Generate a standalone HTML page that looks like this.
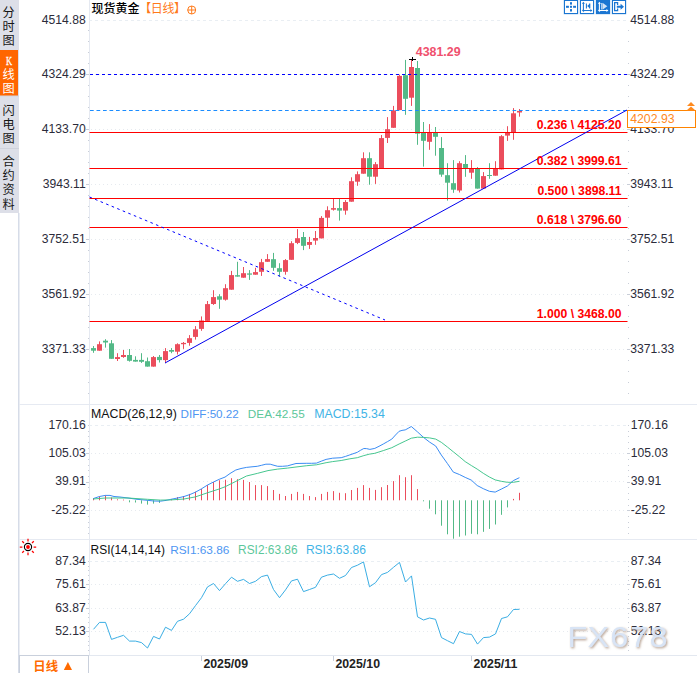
<!DOCTYPE html>
<html lang="zh-CN"><head><meta charset="utf-8"><title>现货黄金 日线</title>
<style>
html,body{margin:0;padding:0;background:#fff;}
body{width:697px;height:673px;overflow:hidden;}
svg{display:block}
text{font-family:"Liberation Sans","Noto Sans CJK SC",sans-serif;font-size:12px;fill:#333}
.cjk{font-family:"Liberation Sans","Noto Sans CJK SC",sans-serif}
.ax{fill:#2b2b3a}
.b{font-weight:bold}
.fib{font-weight:bold;fill:#ff0000;text-anchor:end;font-size:12.2px}
.ax{font-size:12.15px}
.lb{font-size:12.35px}
.r{text-anchor:end}
</style></head><body>
<svg width="697" height="673" viewBox="0 0 697 673">
<rect width="697" height="673" fill="#fff"/>

<g id="sidebar">
<rect x="0" y="0" width="19" height="213" fill="#dddfe8"/>
<rect x="0" y="50" width="18" height="46" fill="#ff6600"/>
<rect x="0" y="148" width="19" height="1" fill="#cfd2dc"/>
<rect x="0" y="95.5" width="19" height="1" fill="#d2d5de"/>
<rect x="18" y="213" width="1.5" height="460" fill="#d6dce8"/>
<text x="8.7" y="16.5" text-anchor="middle" style="fill:#161616;font-size:12.2px">分</text>
<text x="8.7" y="31" text-anchor="middle" style="fill:#161616;font-size:12.2px">时</text>
<text x="8.7" y="45" text-anchor="middle" style="fill:#161616;font-size:12.2px">图</text>
<text transform="translate(9.0,64.8) scale(0.74,1)" text-anchor="middle" style="fill:#fff;font-family:'Liberation Serif',serif;font-size:11.5px;stroke:#fff;stroke-width:.3">K</text>
<text x="8.7" y="79.0" text-anchor="middle" style="fill:#fff;font-size:12.2px">线</text>
<text x="8.7" y="93.0" text-anchor="middle" style="fill:#fff;font-size:12.2px">图</text>
<text x="8.7" y="114.5" text-anchor="middle" style="fill:#161616;font-size:12.2px">闪</text>
<text x="8.7" y="128.7" text-anchor="middle" style="fill:#161616;font-size:12.2px">电</text>
<text x="8.7" y="143" text-anchor="middle" style="fill:#161616;font-size:12.2px">图</text>
<text x="8.7" y="166" text-anchor="middle" style="fill:#161616;font-size:12.2px">合</text>
<text x="8.7" y="180" text-anchor="middle" style="fill:#161616;font-size:12.2px">约</text>
<text x="8.7" y="194" text-anchor="middle" style="fill:#161616;font-size:12.2px">资</text>
<text x="8.7" y="208.7" text-anchor="middle" style="fill:#161616;font-size:12.2px">料</text>
</g>
<g id="frame" shape-rendering="crispEdges">
<rect x="19" y="404" width="678" height="1" fill="#e6eaf2"/>
<rect x="19" y="539" width="678" height="1" fill="#e6eaf2"/>
<rect x="19" y="655" width="678" height="1" fill="#e3e8f0"/>
<rect x="89" y="0" width="1" height="655" fill="#e5e9f1"/>
</g>
<g id="grid" fill="none" shape-rendering="crispEdges">
<line x1="89" x2="626" y1="20.5" y2="20.5" stroke="#e9eef3" stroke-dasharray="3 3"/>
<line x1="91" x2="626" y1="74.5" y2="74.5" stroke="#e6eaef" stroke-dasharray="1 3"/>
<line x1="91" x2="626" y1="129.5" y2="129.5" stroke="#e6eaef" stroke-dasharray="1 3"/>
<line x1="91" x2="626" y1="184.5" y2="184.5" stroke="#e6eaef" stroke-dasharray="1 3"/>
<line x1="91" x2="626" y1="239.5" y2="239.5" stroke="#e6eaef" stroke-dasharray="1 3"/>
<line x1="91" x2="626" y1="294.5" y2="294.5" stroke="#e6eaef" stroke-dasharray="1 3"/>
<line x1="91" x2="626" y1="349.5" y2="349.5" stroke="#e6eaef" stroke-dasharray="1 3"/>
<line x1="89" x2="626" y1="425.5" y2="425.5" stroke="#e9eef3" stroke-dasharray="3 3"/>
<line x1="91" x2="626" y1="453.5" y2="453.5" stroke="#e6eaef" stroke-dasharray="1 3"/>
<line x1="91" x2="626" y1="481.5" y2="481.5" stroke="#e6eaef" stroke-dasharray="1 3"/>
<line x1="91" x2="626" y1="510.5" y2="510.5" stroke="#e6eaef" stroke-dasharray="1 3"/>
<line x1="89" x2="626" y1="561.5" y2="561.5" stroke="#e9eef3" stroke-dasharray="3 3"/>
<line x1="91" x2="626" y1="584.5" y2="584.5" stroke="#e6eaef" stroke-dasharray="1 3"/>
<line x1="91" x2="626" y1="608.5" y2="608.5" stroke="#e6eaef" stroke-dasharray="1 3"/>
<line x1="91" x2="626" y1="631.5" y2="631.5" stroke="#e6eaef" stroke-dasharray="1 3"/>
</g>
<g id="ticks" fill="#c9ced8" shape-rendering="crispEdges">
<rect x="88" y="30.0" width="1" height="1"/>
<rect x="628" y="30.0" width="1" height="1"/>
<rect x="88" y="41.0" width="1" height="1"/>
<rect x="628" y="41.0" width="1" height="1"/>
<rect x="88" y="52.0" width="1" height="1"/>
<rect x="628" y="52.0" width="1" height="1"/>
<rect x="88" y="63.0" width="1" height="1"/>
<rect x="628" y="63.0" width="1" height="1"/>
<rect x="86" y="74.0" width="3" height="1"/>
<rect x="627" y="74.0" width="3" height="1"/>
<rect x="88" y="85.0" width="1" height="1"/>
<rect x="628" y="85.0" width="1" height="1"/>
<rect x="88" y="96.0" width="1" height="1"/>
<rect x="628" y="96.0" width="1" height="1"/>
<rect x="88" y="107.0" width="1" height="1"/>
<rect x="628" y="107.0" width="1" height="1"/>
<rect x="88" y="118.0" width="1" height="1"/>
<rect x="628" y="118.0" width="1" height="1"/>
<rect x="86" y="129.0" width="3" height="1"/>
<rect x="627" y="129.0" width="3" height="1"/>
<rect x="88" y="140.0" width="1" height="1"/>
<rect x="628" y="140.0" width="1" height="1"/>
<rect x="88" y="151.0" width="1" height="1"/>
<rect x="628" y="151.0" width="1" height="1"/>
<rect x="88" y="162.0" width="1" height="1"/>
<rect x="628" y="162.0" width="1" height="1"/>
<rect x="88" y="173.0" width="1" height="1"/>
<rect x="628" y="173.0" width="1" height="1"/>
<rect x="86" y="184.0" width="3" height="1"/>
<rect x="627" y="184.0" width="3" height="1"/>
<rect x="88" y="195.0" width="1" height="1"/>
<rect x="628" y="195.0" width="1" height="1"/>
<rect x="88" y="206.0" width="1" height="1"/>
<rect x="628" y="206.0" width="1" height="1"/>
<rect x="88" y="217.0" width="1" height="1"/>
<rect x="628" y="217.0" width="1" height="1"/>
<rect x="88" y="228.0" width="1" height="1"/>
<rect x="628" y="228.0" width="1" height="1"/>
<rect x="86" y="239.0" width="3" height="1"/>
<rect x="627" y="239.0" width="3" height="1"/>
<rect x="88" y="250.0" width="1" height="1"/>
<rect x="628" y="250.0" width="1" height="1"/>
<rect x="88" y="261.0" width="1" height="1"/>
<rect x="628" y="261.0" width="1" height="1"/>
<rect x="88" y="272.0" width="1" height="1"/>
<rect x="628" y="272.0" width="1" height="1"/>
<rect x="88" y="283.0" width="1" height="1"/>
<rect x="628" y="283.0" width="1" height="1"/>
<rect x="86" y="294.0" width="3" height="1"/>
<rect x="627" y="294.0" width="3" height="1"/>
<rect x="88" y="305.0" width="1" height="1"/>
<rect x="628" y="305.0" width="1" height="1"/>
<rect x="88" y="316.0" width="1" height="1"/>
<rect x="628" y="316.0" width="1" height="1"/>
<rect x="88" y="327.0" width="1" height="1"/>
<rect x="628" y="327.0" width="1" height="1"/>
<rect x="88" y="338.0" width="1" height="1"/>
<rect x="628" y="338.0" width="1" height="1"/>
<rect x="86" y="349.0" width="3" height="1"/>
<rect x="627" y="349.0" width="3" height="1"/>
<rect x="88" y="360.0" width="1" height="1"/>
<rect x="628" y="360.0" width="1" height="1"/>
<rect x="88" y="371.0" width="1" height="1"/>
<rect x="628" y="371.0" width="1" height="1"/>
<rect x="88" y="382.0" width="1" height="1"/>
<rect x="628" y="382.0" width="1" height="1"/>
<rect x="88" y="393.0" width="1" height="1"/>
<rect x="628" y="393.0" width="1" height="1"/>
<rect x="88" y="425" width="1" height="1"/><rect x="628" y="425" width="1" height="1"/>
<rect x="88" y="431" width="1" height="1"/><rect x="628" y="431" width="1" height="1"/>
<rect x="88" y="436" width="1" height="1"/><rect x="628" y="436" width="1" height="1"/>
<rect x="88" y="442" width="1" height="1"/><rect x="628" y="442" width="1" height="1"/>
<rect x="88" y="448" width="1" height="1"/><rect x="628" y="448" width="1" height="1"/>
<rect x="86" y="453" width="3" height="1"/><rect x="627" y="453" width="3" height="1"/>
<rect x="88" y="459" width="1" height="1"/><rect x="628" y="459" width="1" height="1"/>
<rect x="88" y="465" width="1" height="1"/><rect x="628" y="465" width="1" height="1"/>
<rect x="88" y="470" width="1" height="1"/><rect x="628" y="470" width="1" height="1"/>
<rect x="88" y="476" width="1" height="1"/><rect x="628" y="476" width="1" height="1"/>
<rect x="86" y="482" width="3" height="1"/><rect x="627" y="482" width="3" height="1"/>
<rect x="88" y="487" width="1" height="1"/><rect x="628" y="487" width="1" height="1"/>
<rect x="88" y="493" width="1" height="1"/><rect x="628" y="493" width="1" height="1"/>
<rect x="88" y="499" width="1" height="1"/><rect x="628" y="499" width="1" height="1"/>
<rect x="88" y="505" width="1" height="1"/><rect x="628" y="505" width="1" height="1"/>
<rect x="86" y="510" width="3" height="1"/><rect x="627" y="510" width="3" height="1"/>
<rect x="88" y="516" width="1" height="1"/><rect x="628" y="516" width="1" height="1"/>
<rect x="88" y="522" width="1" height="1"/><rect x="628" y="522" width="1" height="1"/>
<rect x="88" y="527" width="1" height="1"/><rect x="628" y="527" width="1" height="1"/>
<rect x="88" y="533" width="1" height="1"/><rect x="628" y="533" width="1" height="1"/>
<rect x="88" y="561" width="1" height="1"/><rect x="628" y="561" width="1" height="1"/>
<rect x="88" y="566" width="1" height="1"/><rect x="628" y="566" width="1" height="1"/>
<rect x="88" y="570" width="1" height="1"/><rect x="628" y="570" width="1" height="1"/>
<rect x="88" y="575" width="1" height="1"/><rect x="628" y="575" width="1" height="1"/>
<rect x="88" y="580" width="1" height="1"/><rect x="628" y="580" width="1" height="1"/>
<rect x="86" y="584" width="3" height="1"/><rect x="627" y="584" width="3" height="1"/>
<rect x="88" y="589" width="1" height="1"/><rect x="628" y="589" width="1" height="1"/>
<rect x="88" y="594" width="1" height="1"/><rect x="628" y="594" width="1" height="1"/>
<rect x="88" y="599" width="1" height="1"/><rect x="628" y="599" width="1" height="1"/>
<rect x="88" y="603" width="1" height="1"/><rect x="628" y="603" width="1" height="1"/>
<rect x="86" y="608" width="3" height="1"/><rect x="627" y="608" width="3" height="1"/>
<rect x="88" y="613" width="1" height="1"/><rect x="628" y="613" width="1" height="1"/>
<rect x="88" y="617" width="1" height="1"/><rect x="628" y="617" width="1" height="1"/>
<rect x="88" y="622" width="1" height="1"/><rect x="628" y="622" width="1" height="1"/>
<rect x="88" y="627" width="1" height="1"/><rect x="628" y="627" width="1" height="1"/>
<rect x="86" y="631" width="3" height="1"/><rect x="627" y="631" width="3" height="1"/>
<rect x="88" y="636" width="1" height="1"/><rect x="628" y="636" width="1" height="1"/>
<rect x="88" y="641" width="1" height="1"/><rect x="628" y="641" width="1" height="1"/>
<rect x="88" y="645" width="1" height="1"/><rect x="628" y="645" width="1" height="1"/>
<rect x="88" y="650" width="1" height="1"/><rect x="628" y="650" width="1" height="1"/>
</g>
<g id="labels" class="ax">
<text x="85.7" y="23.8" class="r ax">4514.88</text>
<text x="630.3" y="23.8" class="ax">4514.88</text>
<text x="85.7" y="78.3" class="r ax">4324.29</text>
<text x="630.3" y="78.3" class="ax">4324.29</text>
<text x="85.7" y="133.3" class="r ax">4133.70</text>
<text x="630.3" y="133.3" class="ax">4133.70</text>
<text x="85.7" y="188.3" class="r ax">3943.11</text>
<text x="630.3" y="188.3" class="ax">3943.11</text>
<text x="85.7" y="243.3" class="r ax">3752.51</text>
<text x="630.3" y="243.3" class="ax">3752.51</text>
<text x="85.7" y="298.3" class="r ax">3561.92</text>
<text x="630.3" y="298.3" class="ax">3561.92</text>
<text x="85.7" y="353.3" class="r ax">3371.33</text>
<text x="630.3" y="353.3" class="ax">3371.33</text>
<text x="85.7" y="428.8" class="r ax">170.16</text>
<text x="630.8" y="428.8" class="ax">170.16</text>
<text x="85.7" y="457.3" class="r ax">105.03</text>
<text x="630.8" y="457.3" class="ax">105.03</text>
<text x="85.7" y="485.3" class="r ax">39.91</text>
<text x="630.8" y="485.3" class="ax">39.91</text>
<text x="85.7" y="514.3" class="r ax">-25.22</text>
<text x="630.8" y="514.3" class="ax">-25.22</text>
<text x="85.7" y="565.0999999999999" class="r ax">87.34</text>
<text x="630.8" y="565.0999999999999" class="ax">87.34</text>
<text x="85.7" y="588.3" class="r ax">75.61</text>
<text x="630.8" y="588.3" class="ax">75.61</text>
<text x="85.7" y="612.0999999999999" class="r ax">63.87</text>
<text x="630.8" y="612.0999999999999" class="ax">63.87</text>
<text x="85.7" y="635.3" class="r ax">52.13</text>
<text x="630.8" y="635.3" class="ax">52.13</text>
</g>
<g id="candles">
<rect x="93.0" y="346.0" width="1" height="6.8" fill="#53b987"/>
<rect x="91.0" y="348.1" width="5" height="2.6" fill="#53b987"/>
<rect x="99.0" y="341.4" width="1" height="9.3" fill="#eb4d5c"/>
<rect x="97.0" y="344.2" width="5" height="6.5" fill="#eb4d5c"/>
<rect x="105.0" y="339.2" width="1" height="8.4" fill="#53b987"/>
<rect x="103.0" y="340.7" width="5" height="1.8" fill="#53b987"/>
<rect x="111.0" y="340.1" width="1" height="18.7" fill="#53b987"/>
<rect x="109.0" y="343.3" width="5" height="15.5" fill="#53b987"/>
<rect x="117.0" y="353.2" width="1" height="7.8" fill="#eb4d5c"/>
<rect x="115.0" y="357.1" width="5" height="1.9" fill="#eb4d5c"/>
<rect x="123.0" y="350.0" width="1" height="7.8" fill="#eb4d5c"/>
<rect x="121.0" y="355.0" width="5" height="2.0" fill="#eb4d5c"/>
<rect x="129.0" y="349.0" width="1" height="12.6" fill="#53b987"/>
<rect x="127.0" y="355.0" width="5" height="5.8" fill="#53b987"/>
<rect x="135.0" y="356.3" width="1" height="5.3" fill="#53b987"/>
<rect x="133.0" y="359.9" width="5" height="1.7" fill="#53b987"/>
<rect x="141.0" y="353.2" width="1" height="9.7" fill="#53b987"/>
<rect x="139.0" y="359.9" width="5" height="1.9" fill="#53b987"/>
<rect x="147.0" y="357.5" width="1" height="9.1" fill="#53b987"/>
<rect x="145.0" y="361.2" width="5" height="5.4" fill="#53b987"/>
<rect x="153.0" y="356.0" width="1" height="10.6" fill="#eb4d5c"/>
<rect x="151.0" y="357.1" width="5" height="9.5" fill="#eb4d5c"/>
<rect x="159.0" y="355.0" width="1" height="7.5" fill="#53b987"/>
<rect x="157.0" y="356.9" width="5" height="3.2" fill="#53b987"/>
<rect x="165.0" y="348.1" width="1" height="15.0" fill="#eb4d5c"/>
<rect x="163.0" y="351.1" width="5" height="9.0" fill="#eb4d5c"/>
<rect x="171.0" y="348.1" width="1" height="5.1" fill="#53b987"/>
<rect x="169.0" y="350.0" width="5" height="1.7" fill="#53b987"/>
<rect x="177.0" y="343.3" width="1" height="11.2" fill="#eb4d5c"/>
<rect x="175.0" y="344.2" width="5" height="7.5" fill="#eb4d5c"/>
<rect x="183.0" y="342.0" width="1" height="6.9" fill="#eb4d5c"/>
<rect x="181.0" y="342.9" width="5" height="1.3" fill="#eb4d5c"/>
<rect x="189.0" y="335.1" width="1" height="10.6" fill="#eb4d5c"/>
<rect x="187.0" y="338.2" width="5" height="4.7" fill="#eb4d5c"/>
<rect x="195.0" y="326.1" width="1" height="13.5" fill="#eb4d5c"/>
<rect x="193.0" y="329.3" width="5" height="7.6" fill="#eb4d5c"/>
<rect x="201.0" y="316.4" width="1" height="14.4" fill="#eb4d5c"/>
<rect x="199.0" y="320.5" width="5" height="8.4" fill="#eb4d5c"/>
<rect x="207.0" y="301.0" width="1" height="19.9" fill="#eb4d5c"/>
<rect x="205.0" y="304.1" width="5" height="16.8" fill="#eb4d5c"/>
<rect x="213.0" y="290.2" width="1" height="14.7" fill="#eb4d5c"/>
<rect x="211.0" y="297.1" width="5" height="6.9" fill="#eb4d5c"/>
<rect x="219.0" y="294.2" width="1" height="14.6" fill="#53b987"/>
<rect x="217.0" y="296.3" width="5" height="3.4" fill="#53b987"/>
<rect x="225.0" y="284.2" width="1" height="16.4" fill="#eb4d5c"/>
<rect x="223.0" y="288.2" width="5" height="11.5" fill="#eb4d5c"/>
<rect x="231.0" y="270.9" width="1" height="18.8" fill="#eb4d5c"/>
<rect x="229.0" y="275.1" width="5" height="14.6" fill="#eb4d5c"/>
<rect x="237.0" y="261.8" width="1" height="14.8" fill="#53b987"/>
<rect x="235.0" y="275.2" width="5" height="1.4" fill="#53b987"/>
<rect x="243.0" y="267.0" width="1" height="10.7" fill="#eb4d5c"/>
<rect x="241.0" y="273.2" width="5" height="4.5" fill="#eb4d5c"/>
<rect x="249.0" y="270.1" width="1" height="9.8" fill="#53b987"/>
<rect x="247.0" y="273.4" width="5" height="1.3" fill="#53b987"/>
<rect x="255.0" y="267.8" width="1" height="6.9" fill="#eb4d5c"/>
<rect x="253.0" y="272.1" width="5" height="2.6" fill="#eb4d5c"/>
<rect x="261.0" y="258.9" width="1" height="17.0" fill="#eb4d5c"/>
<rect x="259.0" y="262.2" width="5" height="9.6" fill="#eb4d5c"/>
<rect x="267.0" y="254.1" width="1" height="7.7" fill="#eb4d5c"/>
<rect x="265.0" y="259.1" width="5" height="2.7" fill="#eb4d5c"/>
<rect x="273.0" y="252.9" width="1" height="17.9" fill="#53b987"/>
<rect x="271.0" y="259.2" width="5" height="8.6" fill="#53b987"/>
<rect x="279.0" y="263.2" width="1" height="13.3" fill="#53b987"/>
<rect x="277.0" y="268.2" width="5" height="3.6" fill="#53b987"/>
<rect x="285.0" y="259.1" width="1" height="15.6" fill="#eb4d5c"/>
<rect x="283.0" y="260.1" width="5" height="11.7" fill="#eb4d5c"/>
<rect x="291.0" y="241.2" width="1" height="18.6" fill="#eb4d5c"/>
<rect x="289.0" y="243.2" width="5" height="16.6" fill="#eb4d5c"/>
<rect x="297.0" y="229.1" width="1" height="15.0" fill="#eb4d5c"/>
<rect x="295.0" y="238.2" width="5" height="4.7" fill="#eb4d5c"/>
<rect x="303.0" y="232.0" width="1" height="18.1" fill="#53b987"/>
<rect x="301.0" y="237.0" width="5" height="8.8" fill="#53b987"/>
<rect x="309.0" y="236.9" width="1" height="12.0" fill="#eb4d5c"/>
<rect x="307.0" y="242.0" width="5" height="2.9" fill="#eb4d5c"/>
<rect x="315.0" y="231.0" width="1" height="13.8" fill="#eb4d5c"/>
<rect x="313.0" y="238.0" width="5" height="2.6" fill="#eb4d5c"/>
<rect x="321.0" y="216.1" width="1" height="22.3" fill="#eb4d5c"/>
<rect x="319.0" y="217.9" width="5" height="20.5" fill="#eb4d5c"/>
<rect x="327.0" y="206.3" width="1" height="20.9" fill="#eb4d5c"/>
<rect x="325.0" y="210.2" width="5" height="7.5" fill="#eb4d5c"/>
<rect x="333.0" y="198.7" width="1" height="11.9" fill="#eb4d5c"/>
<rect x="331.0" y="208.1" width="5" height="1.6" fill="#eb4d5c"/>
<rect x="339.0" y="198.7" width="1" height="21.9" fill="#53b987"/>
<rect x="337.0" y="208.1" width="5" height="2.5" fill="#53b987"/>
<rect x="345.0" y="200.1" width="1" height="14.6" fill="#eb4d5c"/>
<rect x="343.0" y="202.0" width="5" height="8.6" fill="#eb4d5c"/>
<rect x="351.0" y="177.3" width="1" height="24.4" fill="#eb4d5c"/>
<rect x="349.0" y="181.2" width="5" height="20.5" fill="#eb4d5c"/>
<rect x="357.0" y="171.4" width="1" height="14.4" fill="#eb4d5c"/>
<rect x="355.0" y="174.2" width="5" height="7.5" fill="#eb4d5c"/>
<rect x="363.0" y="152.3" width="1" height="21.4" fill="#eb4d5c"/>
<rect x="361.0" y="158.2" width="5" height="15.5" fill="#eb4d5c"/>
<rect x="369.0" y="152.3" width="1" height="32.4" fill="#53b987"/>
<rect x="367.0" y="158.2" width="5" height="18.5" fill="#53b987"/>
<rect x="375.0" y="162.1" width="1" height="21.8" fill="#eb4d5c"/>
<rect x="373.0" y="164.2" width="5" height="12.5" fill="#eb4d5c"/>
<rect x="381.0" y="135.0" width="1" height="33.3" fill="#eb4d5c"/>
<rect x="379.0" y="138.1" width="5" height="30.2" fill="#eb4d5c"/>
<rect x="387.0" y="117.1" width="1" height="25.9" fill="#eb4d5c"/>
<rect x="385.0" y="129.2" width="5" height="8.7" fill="#eb4d5c"/>
<rect x="393.0" y="105.9" width="1" height="21.9" fill="#eb4d5c"/>
<rect x="391.0" y="110.4" width="5" height="17.4" fill="#eb4d5c"/>
<rect x="399.0" y="74.7" width="1" height="35.4" fill="#eb4d5c"/>
<rect x="397.0" y="75.9" width="5" height="34.2" fill="#eb4d5c"/>
<rect x="405.0" y="59.9" width="1" height="54.9" fill="#53b987"/>
<rect x="403.0" y="75.2" width="5" height="23.6" fill="#53b987"/>
<rect x="411.0" y="59.1" width="1" height="46.8" fill="#eb4d5c"/>
<rect x="409.0" y="67.0" width="5" height="30.7" fill="#eb4d5c"/>
<rect x="417.0" y="61.0" width="1" height="83.8" fill="#53b987"/>
<rect x="415.0" y="68.0" width="5" height="65.7" fill="#53b987"/>
<rect x="423.0" y="122.0" width="1" height="44.6" fill="#53b987"/>
<rect x="421.0" y="133.0" width="5" height="7.8" fill="#53b987"/>
<rect x="429.0" y="124.1" width="1" height="25.7" fill="#eb4d5c"/>
<rect x="427.0" y="132.5" width="5" height="9.3" fill="#eb4d5c"/>
<rect x="435.0" y="127.0" width="1" height="28.7" fill="#53b987"/>
<rect x="433.0" y="132.9" width="5" height="3.9" fill="#53b987"/>
<rect x="441.0" y="137.1" width="1" height="39.7" fill="#53b987"/>
<rect x="439.0" y="148.0" width="5" height="26.6" fill="#53b987"/>
<rect x="447.0" y="163.2" width="1" height="37.4" fill="#53b987"/>
<rect x="445.0" y="175.2" width="5" height="7.5" fill="#53b987"/>
<rect x="453.0" y="160.1" width="1" height="32.7" fill="#53b987"/>
<rect x="451.0" y="183.2" width="5" height="6.5" fill="#53b987"/>
<rect x="459.0" y="161.2" width="1" height="31.3" fill="#eb4d5c"/>
<rect x="457.0" y="163.2" width="5" height="27.3" fill="#eb4d5c"/>
<rect x="465.0" y="155.1" width="1" height="21.7" fill="#53b987"/>
<rect x="463.0" y="164.0" width="5" height="3.9" fill="#53b987"/>
<rect x="471.0" y="160.1" width="1" height="18.7" fill="#eb4d5c"/>
<rect x="469.0" y="168.6" width="5" height="4.1" fill="#eb4d5c"/>
<rect x="477.0" y="167.1" width="1" height="21.5" fill="#53b987"/>
<rect x="475.0" y="168.6" width="5" height="20.0" fill="#53b987"/>
<rect x="483.0" y="172.1" width="1" height="16.5" fill="#eb4d5c"/>
<rect x="481.0" y="176.1" width="5" height="12.5" fill="#eb4d5c"/>
<rect x="489.0" y="163.2" width="1" height="15.6" fill="#53b987"/>
<rect x="487.0" y="175.0" width="5" height="1.0" fill="#53b987"/>
<rect x="495.0" y="161.2" width="1" height="14.5" fill="#eb4d5c"/>
<rect x="493.0" y="168.6" width="5" height="7.1" fill="#eb4d5c"/>
<rect x="501.0" y="135.1" width="1" height="34.3" fill="#eb4d5c"/>
<rect x="499.0" y="136.2" width="5" height="33.2" fill="#eb4d5c"/>
<rect x="507.0" y="126.2" width="1" height="14.7" fill="#eb4d5c"/>
<rect x="505.0" y="132.8" width="5" height="2.8" fill="#eb4d5c"/>
<rect x="513.0" y="108.1" width="1" height="31.7" fill="#eb4d5c"/>
<rect x="511.0" y="113.3" width="5" height="19.0" fill="#eb4d5c"/>
<rect x="519.0" y="109.0" width="1" height="7.7" fill="#eb4d5c"/>
<rect x="517.0" y="110.9" width="5" height="1.6" fill="#eb4d5c"/>
</g>
<g id="drawings" fill="none">
<line x1="90" x2="627" y1="74.5" y2="74.5" stroke="#0000ff" stroke-width="1" stroke-dasharray="3 3" shape-rendering="crispEdges"/>
<line x1="90" x2="627" y1="110.5" y2="110.5" stroke="#1a8cff" stroke-width="1.2" stroke-dasharray="3.7 2.8"/>
<line x1="89.5" x2="627.5" y1="132.5" y2="132.5" stroke="#ff0000" stroke-width="1.2"/>
<line x1="89.5" x2="627.5" y1="168.5" y2="168.5" stroke="#ff0000" stroke-width="1.2"/>
<line x1="89.5" x2="627.5" y1="198.5" y2="198.5" stroke="#ff0000" stroke-width="1.2"/>
<line x1="89.5" x2="627.5" y1="227.5" y2="227.5" stroke="#ff0000" stroke-width="1.2"/>
<line x1="89.5" x2="627.5" y1="321.5" y2="321.5" stroke="#ff0000" stroke-width="1.2"/>
</g>
<line x1="89.5" y1="197" x2="385" y2="320" stroke="#0000ff" stroke-width="1" stroke-dasharray="2.6 3.4" fill="none"/>
<line x1="165" y1="363" x2="627" y2="110" stroke="#0000ee" stroke-width="1" fill="none"/>
<g id="fib">
<text x="621.5" y="129" class="fib" xml:space="preserve">0.236 \ 4125.20</text>
<text x="621.5" y="164.7" class="fib" xml:space="preserve">0.382 \ 3999.61</text>
<text x="621.5" y="194.6" class="fib" xml:space="preserve">0.500 \ 3898.11</text>
<text x="621.5" y="223.6" class="fib" xml:space="preserve">0.618 \ 3796.60</text>
<text x="621.5" y="317.6" class="fib" xml:space="preserve">1.000 \ 3468.00</text>
</g>
<text x="415.8" y="55.9" class="b" style="fill:#f0506e;font-size:12.4px">4381.29</text>
<path d="M408.5 59.5h7M412 57v4.4" stroke="#000" stroke-width="1" fill="none" shape-rendering="crispEdges"/>
<g id="tag">
<rect x="627.5" y="110.5" width="68" height="17" fill="#fff" stroke="#ff8400" stroke-width="1"/>
<text x="630.2" y="123.3" style="fill:#ff8a1e;font-size:12.3px">4202.93</text>
<path d="M687 106l4-4 4 4zM686.5 110.5l4.5-4 4.5 4z" fill="#ff8a1e"/>
</g>
<text x="91.5" y="13.3" class="cjk" style="fill:#000;font-weight:500">现货黄金</text>
<text x="139.3" y="13.3" class="cjk" style="fill:#ff7a1a;letter-spacing:-0.45px">【日线】</text>
<g stroke="#ff7a1a" fill="none" stroke-width="1"><circle cx="191.7" cy="10" r="4"/><path d="M187.7 10h8M191.7 6v8"/></g>
<g id="tools">
<rect x="564.5" y="0.5" width="13" height="13" fill="#fff" stroke="#1b76d2" stroke-width="1" shape-rendering="crispEdges"/>
<rect x="564" y="0" width="14" height="14" fill="none" stroke="#1b76d2" stroke-width="0.5" stroke-opacity="0.6"/>
<rect x="580.5" y="0.5" width="13" height="13" fill="#fff" stroke="#1b76d2" stroke-width="1" shape-rendering="crispEdges"/>
<rect x="580" y="0" width="14" height="14" fill="none" stroke="#1b76d2" stroke-width="0.5" stroke-opacity="0.6"/>
<rect x="596.5" y="0.5" width="13" height="13" fill="#1b76d2" stroke="#1b76d2" stroke-width="1" shape-rendering="crispEdges"/>
<rect x="596" y="0" width="14" height="14" fill="none" stroke="#1b76d2" stroke-width="0.5" stroke-opacity="0.6"/>
<rect x="612.5" y="0.5" width="13" height="13" fill="#fff" stroke="#1b76d2" stroke-width="1" shape-rendering="crispEdges"/>
<rect x="612" y="0" width="14" height="14" fill="none" stroke="#1b76d2" stroke-width="0.5" stroke-opacity="0.6"/>
<g fill="#1b76d2"><rect x="566" y="5.8" width="2.9" height="2"/><rect x="570" y="5.8" width="2" height="2"/><rect x="573.1" y="5.8" width="2.9" height="2"/><rect x="570" y="2.2" width="2" height="2.4"/><rect x="570" y="9.1" width="2" height="2.4"/></g>
<path d="M583.4 2.8v8.4M582.3 10.5h9.4" stroke="#1b76d2" stroke-width="1.05" fill="none"/>
<path d="M583.4 1.7l1.5 2h-3zM583.4 12.2l1.5-1.9h-3zM592.4 10.5l-2-1.4v2.8zM581.7 10.5l1.7-1.3v2.6z" fill="#1b76d2"/>
<path d="M586.4 3.4v5.2M589.8 3.4v5.2" stroke="#1b76d2" stroke-width="1.05" fill="none"/><path d="M587.2 6l2.8-2.6v5.2z" fill="#1b76d2"/>
<path d="M599.4 2.8v8.4M598.3 10.5h9.4" stroke="#fff" stroke-width="1.05" fill="none"/>
<path d="M599.4 1.7l1.5 2h-3zM599.4 12.2l1.5-1.9h-3zM608.4 10.5l-2-1.4v2.8zM597.7 10.5l1.7-1.3v2.6z" fill="#fff"/>
<path d="M601.9 3v6.6" stroke="#fff" stroke-width="1.1" fill="none"/><path d="M602.8 3l4.5 3.3-4.5 3.3z" fill="#d3e4f7"/>
<path d="M617.6 5v-2.3h-3v8h3v-2.3" stroke="#1b76d2" stroke-width="1.25" fill="none"/><path d="M616.8 5.8h3.8v-2l3.4 3-3.4 3v-2h-3.8z" fill="#1b76d2"/>
</g>
<g id="macd">
<text y="418.2"><tspan x="91" style="fill:#111;font-size:12.35px">MACD(26,12,9)</tspan><tspan x="180.5" style="fill:#4e96f2;font-size:11.66px">DIFF:50.22</tspan><tspan x="247.8" style="fill:#5cc79a;font-size:11.78px">DEA:42.55</tspan><tspan x="314.2" style="fill:#3fb4e6;font-size:12.35px">MACD:15.34</tspan></text>
<rect x="93.0" y="498.0" width="1" height="2.3" fill="#eb4d5c"/>
<rect x="99.0" y="496.5" width="1" height="3.8" fill="#eb4d5c"/>
<rect x="105.0" y="495.4" width="1" height="4.9" fill="#eb4d5c"/>
<rect x="111.0" y="497.5" width="1" height="2.8" fill="#eb4d5c"/>
<rect x="117.0" y="499.3" width="1" height="1.0" fill="#eb4d5c"/>
<rect x="123.0" y="499.6" width="1" height="0.8" fill="#eb4d5c"/>
<rect x="129.0" y="500.3" width="1" height="2.0" fill="#53b987"/>
<rect x="135.0" y="500.3" width="1" height="2.2" fill="#53b987"/>
<rect x="141.0" y="500.3" width="1" height="3.3" fill="#53b987"/>
<rect x="147.0" y="500.3" width="1" height="4.3" fill="#53b987"/>
<rect x="153.0" y="500.3" width="1" height="3.3" fill="#53b987"/>
<rect x="159.0" y="500.3" width="1" height="2.6" fill="#53b987"/>
<rect x="165.0" y="500.2" width="1" height="0.8" fill="#eb4d5c"/>
<rect x="171.0" y="499.0" width="1" height="1.3" fill="#eb4d5c"/>
<rect x="177.0" y="497.1" width="1" height="3.2" fill="#eb4d5c"/>
<rect x="183.0" y="496.0" width="1" height="4.3" fill="#eb4d5c"/>
<rect x="189.0" y="493.9" width="1" height="6.4" fill="#eb4d5c"/>
<rect x="195.0" y="491.7" width="1" height="8.6" fill="#eb4d5c"/>
<rect x="201.0" y="488.9" width="1" height="11.4" fill="#eb4d5c"/>
<rect x="207.0" y="485.1" width="1" height="15.2" fill="#eb4d5c"/>
<rect x="213.0" y="482.0" width="1" height="18.3" fill="#eb4d5c"/>
<rect x="219.0" y="480.3" width="1" height="20.0" fill="#eb4d5c"/>
<rect x="225.0" y="479.7" width="1" height="20.6" fill="#eb4d5c"/>
<rect x="231.0" y="478.2" width="1" height="22.1" fill="#eb4d5c"/>
<rect x="237.0" y="479.2" width="1" height="21.1" fill="#eb4d5c"/>
<rect x="243.0" y="479.9" width="1" height="20.4" fill="#eb4d5c"/>
<rect x="249.0" y="482.0" width="1" height="18.3" fill="#eb4d5c"/>
<rect x="255.0" y="485.1" width="1" height="15.2" fill="#eb4d5c"/>
<rect x="261.0" y="485.1" width="1" height="15.2" fill="#eb4d5c"/>
<rect x="267.0" y="486.1" width="1" height="14.2" fill="#eb4d5c"/>
<rect x="273.0" y="490.0" width="1" height="10.3" fill="#eb4d5c"/>
<rect x="279.0" y="493.9" width="1" height="6.4" fill="#eb4d5c"/>
<rect x="285.0" y="496.0" width="1" height="4.3" fill="#eb4d5c"/>
<rect x="291.0" y="493.9" width="1" height="6.4" fill="#eb4d5c"/>
<rect x="297.0" y="491.9" width="1" height="8.4" fill="#eb4d5c"/>
<rect x="303.0" y="493.9" width="1" height="6.4" fill="#eb4d5c"/>
<rect x="309.0" y="496.0" width="1" height="4.3" fill="#eb4d5c"/>
<rect x="315.0" y="497.1" width="1" height="3.2" fill="#eb4d5c"/>
<rect x="321.0" y="493.9" width="1" height="6.4" fill="#eb4d5c"/>
<rect x="327.0" y="491.9" width="1" height="8.4" fill="#eb4d5c"/>
<rect x="333.0" y="491.1" width="1" height="9.2" fill="#eb4d5c"/>
<rect x="339.0" y="492.8" width="1" height="7.5" fill="#eb4d5c"/>
<rect x="345.0" y="493.2" width="1" height="7.1" fill="#eb4d5c"/>
<rect x="351.0" y="490.0" width="1" height="10.3" fill="#eb4d5c"/>
<rect x="357.0" y="487.9" width="1" height="12.4" fill="#eb4d5c"/>
<rect x="363.0" y="485.1" width="1" height="15.2" fill="#eb4d5c"/>
<rect x="369.0" y="487.9" width="1" height="12.4" fill="#eb4d5c"/>
<rect x="375.0" y="489.9" width="1" height="10.4" fill="#eb4d5c"/>
<rect x="381.0" y="487.2" width="1" height="13.1" fill="#eb4d5c"/>
<rect x="387.0" y="485.0" width="1" height="15.3" fill="#eb4d5c"/>
<rect x="393.0" y="481.1" width="1" height="19.2" fill="#eb4d5c"/>
<rect x="399.0" y="475.2" width="1" height="25.1" fill="#eb4d5c"/>
<rect x="405.0" y="477.2" width="1" height="23.1" fill="#eb4d5c"/>
<rect x="411.0" y="475.2" width="1" height="25.1" fill="#eb4d5c"/>
<rect x="417.0" y="489.1" width="1" height="11.2" fill="#eb4d5c"/>
<rect x="423.0" y="500.3" width="1" height="1.0" fill="#53b987"/>
<rect x="429.0" y="500.3" width="1" height="8.4" fill="#53b987"/>
<rect x="435.0" y="500.3" width="1" height="14.0" fill="#53b987"/>
<rect x="441.0" y="500.3" width="1" height="25.4" fill="#53b987"/>
<rect x="447.0" y="500.3" width="1" height="34.0" fill="#53b987"/>
<rect x="453.0" y="500.3" width="1" height="38.4" fill="#53b987"/>
<rect x="459.0" y="500.3" width="1" height="36.4" fill="#53b987"/>
<rect x="465.0" y="500.3" width="1" height="35.2" fill="#53b987"/>
<rect x="471.0" y="500.3" width="1" height="33.5" fill="#53b987"/>
<rect x="477.0" y="500.3" width="1" height="34.0" fill="#53b987"/>
<rect x="483.0" y="500.3" width="1" height="31.5" fill="#53b987"/>
<rect x="489.0" y="500.3" width="1" height="28.6" fill="#53b987"/>
<rect x="495.0" y="500.3" width="1" height="24.2" fill="#53b987"/>
<rect x="501.0" y="500.3" width="1" height="14.5" fill="#53b987"/>
<rect x="507.0" y="500.3" width="1" height="7.1" fill="#53b987"/>
<rect x="513.0" y="498.9" width="1" height="1.4" fill="#eb4d5c"/>
<rect x="519.0" y="492.8" width="1" height="7.5" fill="#eb4d5c"/>
<polyline fill="none" stroke="#2f86f2" stroke-width="0.95" points="93.2,498.6 99.4,496.5 105.4,495.4 110,495.4 114,496.5 120,497 128,498 137,499.3 147.4,500.3 154,501 160.3,501.2 166,500.4 171,499.3 178,497.9 184,496.5 190,494.5 195.4,492.2 201.5,488.8 207.4,485.1 213.5,482 219.5,479.2 225,477.1 230,473.5 235.8,470 241,468.5 246.5,467.4 252,466.8 257.3,466.3 261.5,465.3 265.9,464.2 270.2,464.2 274,465.3 277.7,466.3 282.5,466.3 287.4,465.9 292,464.6 296,463.5 301,463.4 306.8,463.3 311.5,463.3 316.5,463.1 321.5,461.1 326.1,459.4 332.6,458.2 341.2,457.7 345.5,456.4 349.8,454.9 357.3,452.3 360.5,450.3 363.8,448.5 366.5,448.6 369.9,449.4 374.8,448.4 379,446.3 383.3,444 387.5,441.6 391.8,439.1 395.5,435 399.1,431.3 402,430.4 405.2,429.9 408.2,428.3 411.3,426.5 417.4,431.8 423.5,437.4 429.6,442.1 435.7,446 441.3,455 447.4,463.5 453.3,472.1 459.4,474.5 465.2,477.4 471.3,480.1 477.2,485.5 483.3,488.7 489.4,491.3 495.2,492.1 501.3,489.1 507.4,486 513.3,480.6 519.4,477.7"/>
<polyline fill="none" stroke="#3cc389" stroke-width="0.95" points="93.2,499 105.4,498 128,498 147.4,499.3 160.3,500.1 171,499.9 184,499 195.4,496.9 207.4,492.8 219.5,488.9 225,486.8 235.8,481.4 246.5,476 257.3,473.4 268,470.6 277.7,469.1 287.4,468.1 296,467 306.8,465.7 316.5,464.8 326.1,462.7 332.6,461.6 341.2,460.5 349.8,458.8 357.3,457.7 363.8,455.6 369.2,454.2 374.8,453.3 383.3,450.6 391.8,447.7 399.1,444 405.2,441.1 411.3,438.2 417.4,437.2 423.5,437.4 429.6,437.9 435.7,439.1 441.3,442.3 447.4,447 453.3,451.8 459.4,456.7 465.2,461.6 471.3,465.5 477.2,469.1 483.3,473.3 489.4,477 495.2,479.9 501.3,481.3 507.4,482.3 513.3,482.3 519.4,481.3"/>
</g>
<g id="rsi">
<text y="553.7"><tspan x="90.6" style="fill:#111;font-size:11.95px">RSI(14,14,14)</tspan><tspan x="170.2" style="fill:#4e96f2;font-size:11.84px">RSI1:63.86</tspan><tspan x="238.1" style="fill:#5cc79a;font-size:11.88px">RSI2:63.86</tspan><tspan x="305.9" style="fill:#3fb4e6;font-size:11.99px">RSI3:63.86</tspan></text>
<polyline fill="none" stroke="#2fa9e2" stroke-width="0.95" stroke-linejoin="round" points="93.5,629.3 99.5,622.4 105.5,622.4 111.5,639.4 117.5,637.3 123.5,635.3 129.5,641.1 135.5,641.1 141.5,642.6 147.5,648 153.5,636.4 159.5,639 165.5,627.2 171.5,630.4 177.5,621.3 183.5,619.2 189.5,613.8 195.5,605.6 201.5,597.7 207.5,586.9 213.5,583.5 219.5,590.6 225.5,583.7 231.5,577.2 237.5,581.3 243.5,579.4 249.5,583.5 255.5,581.3 261.5,576.6 267.5,575.1 273.5,589.5 279.5,597.7 285.5,589.9 291.5,580.9 297.5,579.2 303.5,591.6 309.5,589.5 315.5,587.3 321.5,577.2 327.5,575.1 333.5,574 339.5,578.3 345.5,575.5 351.5,567.5 357.5,565.2 363.5,561.9 369.5,586.8 375.5,582.7 381.5,574.6 387.5,572.4 393.5,567.3 399.5,562.4 405.5,582 411.5,575.9 417.5,616.8 423.5,620 429.5,618 435.5,619.3 441.5,637.6 447.5,640.7 453.5,643.7 459.5,631.5 465.5,633.9 471.5,634.4 477.5,644.1 483.5,637.6 489.5,637.1 495.5,633.9 501.5,618.5 507.5,616.8 513.5,609.5 519.5,609.3"/>
<g transform="translate(28,547)"><circle r="3.6" fill="#fff" stroke="#000" stroke-width="1.15"/><circle r="1.9" fill="#ff0000"/><path d="M0 -5.6v-2.6M0 5.6v2.6M-5.6 0h-2.6M5.6 0h2.6M4 -4l1.8 -1.8M-4 -4l-1.8 -1.8M4 4l1.8 1.8M-4 4l-1.8 1.8" stroke="#ff0000" stroke-width="1.25" fill="none"/></g>
</g>
<g id="bottom">
<rect x="19.5" y="655.5" width="69" height="20" fill="#fff" stroke="#c9d0dc" stroke-width="1"/>
<text x="33.3" y="670.5" class="b cjk" style="fill:#ff6a00;font-size:12.4px">日线</text>
<path d="M63.8 670l4.1-8 4.1 8z" fill="#ff6a00"/>
<rect x="201.0" y="656" width="1" height="5" fill="#c9d0dc"/>
<text x="203.4" y="668.1" class="b" style="fill:#222;font-size:12.35px">2025/09</text>
<rect x="333.0" y="656" width="1" height="5" fill="#c9d0dc"/>
<text x="335.4" y="668.1" class="b" style="fill:#222;font-size:12.35px">2025/10</text>
<rect x="471.0" y="656" width="1" height="5" fill="#c9d0dc"/>
<text x="473.4" y="668.1" class="b" style="fill:#222;font-size:12.35px">2025/11</text>
</g>
<g transform="translate(0,647.4) scale(1.12,1)" style="filter:url(#ws)"><text y="0" x="506.6 524.6 544.9 562.6 579.9" style="font-size:29px;fill:#d8e4f5">FX678</text></g>
<defs><filter id="ws" x="-10%" y="-20%" width="120%" height="150%"><feDropShadow dx="1" dy="1.2" stdDeviation="0.9" flood-color="#94755e" flood-opacity="0.7"/></filter></defs>
</svg></body></html>
